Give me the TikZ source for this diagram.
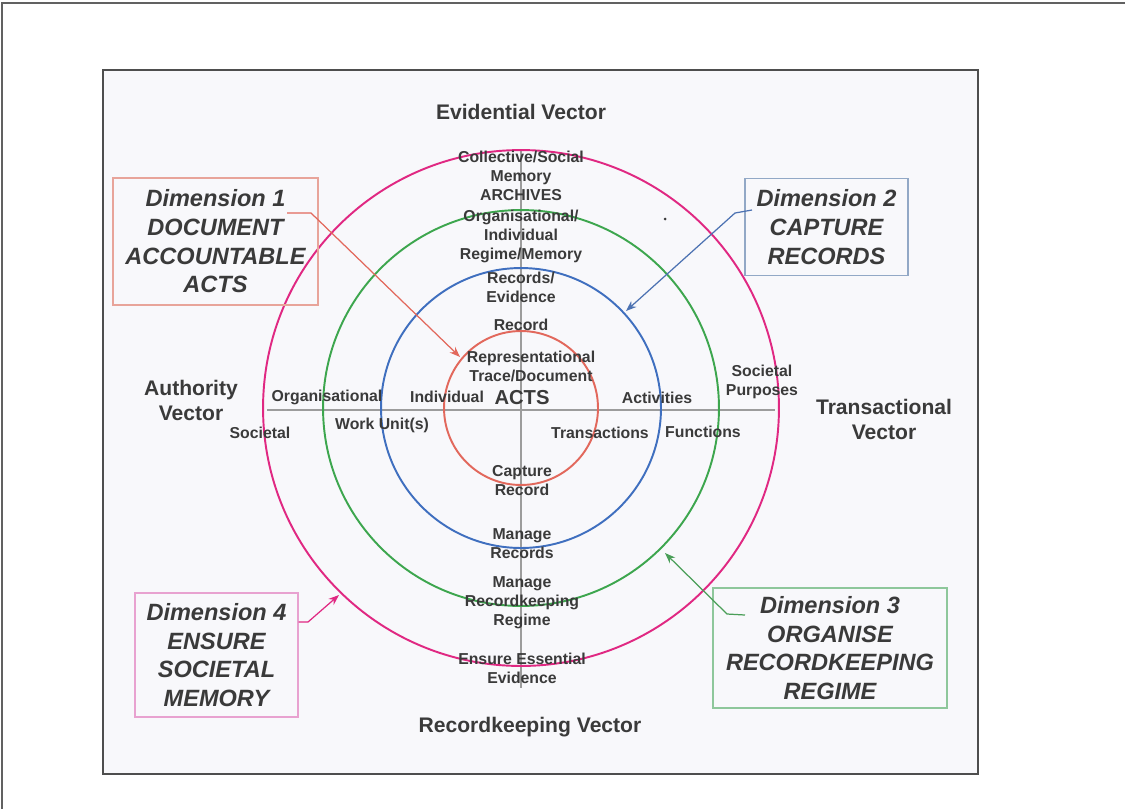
\documentclass[tikz,border=0pt]{standalone}
\usepackage{fontspec}
\setmainfont{Liberation Sans}
\usetikzlibrary{arrows.meta}
\definecolor{txt}{HTML}{3A3A3A}
\definecolor{ringred}{HTML}{E2685C}
\definecolor{ringblue}{HTML}{3F6FBF}
\definecolor{ringgreen}{HTML}{3DA64E}
\definecolor{ringpink}{HTML}{E02882}
\definecolor{boxred}{HTML}{E8A49A}
\definecolor{boxblue}{HTML}{92A8C6}
\definecolor{boxgreen}{HTML}{8EC79B}
\definecolor{boxpink}{HTML}{E8A2D0}
\definecolor{axisgray}{HTML}{9C9C9C}
\definecolor{paper}{HTML}{F8F8FB}
\tikzset{
	lbl/.style={font=\bfseries\fontsize{9}{10.8}\selectfont, text=txt, align=center, inner sep=0pt},
	vec/.style={font=\bfseries\fontsize{12}{14.2}\selectfont, text=txt, align=center, inner sep=0pt},
	dimbox/.style={draw=#1, line width=0.8pt, inner sep=0pt, font=\bfseries\itshape\fontsize{13.4}{16.3}\selectfont, text=txt, align=center},
	ring/.style={draw=#1, line width=1.1pt},
	link/.style={draw=#1, line width=0.7pt, -{Stealth[length=6pt,width=4.5pt]}}
}

\begin{document}
\begin{tikzpicture}[x=0.02cm, y=-0.02cm]
				\useasboundingbox (0, 0) rectangle (1125, 809);
				\draw[txt!80, line width=0.8pt] (1125, 3) -- (2, 3) -- (2, 809);
				\draw[fill=paper, draw=txt!90, line width=1.1pt] (103, 70) rectangle (978, 774);
				
				\draw[axisgray, line width=1pt] (267, 410) -- (775, 410);
				\draw[axisgray, line width=1pt] (521, 150) -- (521, 688);
				
				\draw[ring=ringred] (521, 408) circle [radius=1.54cm];
				\draw[ring=ringblue] (521, 408) circle [radius=2.8cm];
				\draw[ring=ringgreen] (521, 408) circle [radius=3.96cm];
				\draw[ring=ringpink] (521, 408) circle [radius=5.16cm];
				\fill[txt] (665, 219) circle (0.03cm);
				
				\node[vec] (evid) at (521, 112) {Evidential Vector};
				\node[vec] (auth) at (191, 400) {Authority\\Vector};
				\node[vec] (trans) at (884, 419) {Transactional\\Vector};
				\node[vec] (rkeep) at (530, 727) {Recordkeeping Vector};
				
				\node[lbl] (archives) at (521, 176) {Collective/Social\\Memory\\ARCHIVES};
				\node[lbl] (regmem) at (521, 236) {Organisational/\\Individual\\Regime/Memory};
				\node[lbl] (recev) at (521, 287) {Records/\\Evidence};
				\node[lbl] (rec) at (521, 325) {Record};
				\node[lbl] (trace) at (531, 366) {Representational\\Trace/Document};
				\node[lbl, font=\bfseries\fontsize{11.5}{13}\selectfont] (acts) at (522, 398) {ACTS};
				\node[lbl] (capt) at (522, 481) {Capture\\Record};
				\node[lbl] (mrec) at (522, 544) {Manage\\Records};
				\node[lbl] (mreg) at (522, 603) {Manage\\Recordkeeping\\Regime};
				\node[lbl] (ensure) at (522, 668) {Ensure Essential\\Evidence};
				
				\node[lbl] (org) at (327, 397) {Organisational};
				\node[lbl] (indiv) at (447, 397) {Individual};
				\node[lbl] (soc) at (260, 433) {Societal};
				\node[lbl] (work) at (382, 425) {Work Unit(s)};
				\node[lbl] (activ) at (657, 398) {Activities};
				\node[lbl] (transac) at (600, 433) {Transactions};
				\node[lbl] (func) at (703, 432) {Functions};
				\node[lbl] (socp) at (762, 382) {Societal\\Purposes};
				
				\node[dimbox=boxred, minimum width=4.1cm, minimum height=2.54cm] (dimOne) at (215.5, 241.5) {Dimension 1\\DOCUMENT\\ACCOUNTABLE\\ACTS};
				\node[dimbox=boxblue, minimum width=3.26cm, minimum height=1.94cm] (dimTwo) at (826.5, 227) {Dimension 2\\CAPTURE\\RECORDS};
				\node[dimbox=boxgreen, minimum width=4.68cm, minimum height=2.4cm] (dimThree) at (830, 648) {Dimension 3\\ORGANISE\\RECORDKEEPING\\REGIME};
				\node[dimbox=boxpink, minimum width=3.26cm, minimum height=2.48cm] (dimFour) at (216.5, 655) {Dimension 4\\ENSURE\\SOCIETAL\\MEMORY};
				
				\coordinate (oneS) at (287, 213);
				\coordinate (oneK) at (311, 213);
				\coordinate (oneE) at (460, 357);
				\coordinate (twoS) at (752, 210);
				\coordinate (twoK) at (735, 213);
				\coordinate (twoE) at (626, 311);
				\coordinate (threeS) at (745, 615);
				\coordinate (threeK) at (727, 614);
				\coordinate (threeE) at (665, 553);
				\coordinate (fourS) at (dimFour.east |- 0, 622);
				\coordinate (fourK) at (308, 622);
				\coordinate (fourE) at (339, 595);
				
				\draw[link=ringred] (oneS) -- (oneK) -- (oneE);
				\draw[link=ringblue!80!gray] (twoS) -- (twoK) -- (twoE);
				\draw[link=ringgreen!80!gray] (threeS) -- (threeK) -- (threeE);
				\draw[link=ringpink] (fourS) -- (fourK) -- (fourE);
			\end{tikzpicture}
\end{document}
